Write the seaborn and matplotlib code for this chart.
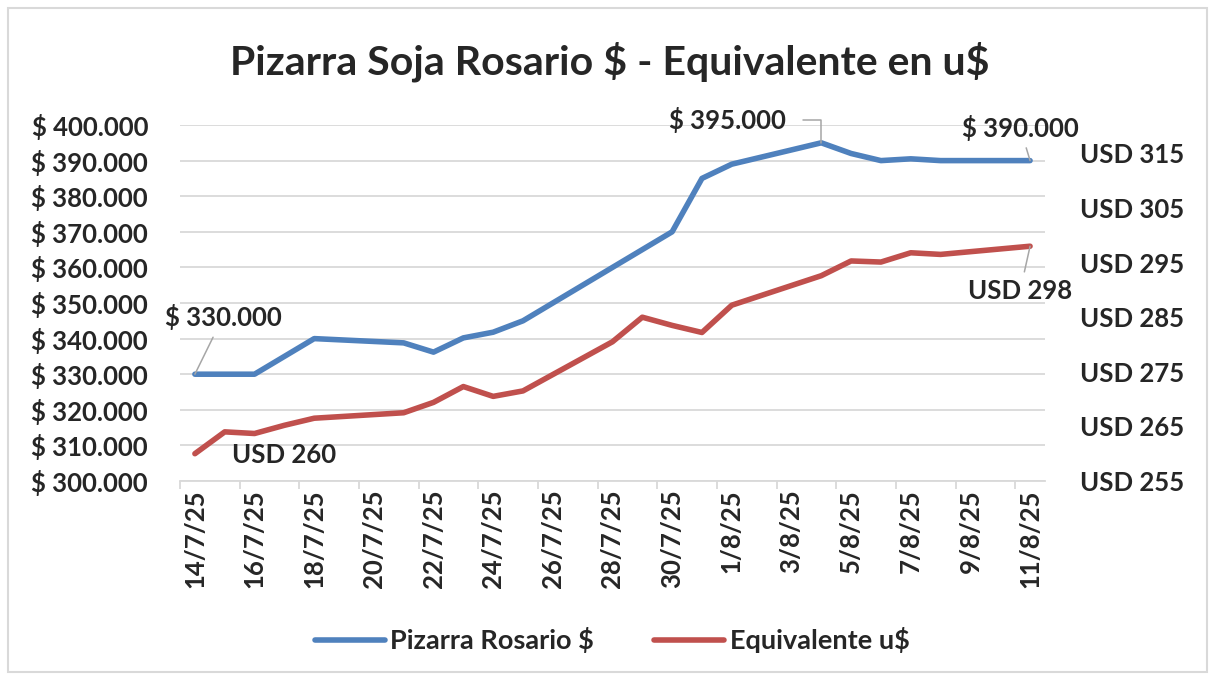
import pandas as pd
import numpy as np
import matplotlib
matplotlib.use("Agg")
import matplotlib.pyplot as plt
import matplotlib.dates as mdates
from matplotlib.patches import Rectangle
import seaborn as sns

# Datos
fechas = ["14/7/25", "15/7/25", "16/7/25", "17/7/25", "18/7/25",
          "21/7/25", "22/7/25", "23/7/25", "24/7/25", "25/7/25",
          "28/7/25", "29/7/25", "30/7/25", "31/7/25", "1/8/25",
          "4/8/25", "5/8/25", "6/8/25", "7/8/25", "8/8/25", "11/8/25"]
pizarra = [330000, 330000, 330000, 335000, 340000,
           338800, 336200, 340200, 341800, 345000,
           360000, 365000, 370000, 385000, 389000,
           395000, 392000, 390000, 390500, 390000, 390000]
equiv_usd = [260, 264, 263.7, 265.2, 266.5,
             267.5, 269.4, 272.3, 270.5, 271.5,
             280.5, 285, 283.5, 282.2, 287.2,
             292.6, 295.3, 295.1, 296.8, 296.5, 298]

etiquetas_x = ["14/7/25", "16/7/25", "18/7/25", "20/7/25", "22/7/25",
               "24/7/25", "26/7/25", "28/7/25", "30/7/25", "1/8/25",
               "3/8/25", "5/8/25", "7/8/25", "9/8/25", "11/8/25"]
ticks_izq = list(range(300000, 400001, 10000))
ticks_der = [255, 265, 275, 285, 295, 305, 315]

titulo = "Pizarra Soja Rosario $ - Equivalente en u$"
serie_1 = "Pizarra Rosario $"
serie_2 = "Equivalente u$"

df = pd.DataFrame({
    "fecha": pd.to_datetime(fechas, format="%d/%m/%y"),
    "pizarra": pizarra,
    "usd": equiv_usd,
})

sns.set_theme(style="white")
plt.rcParams["font.family"] = ["Lato", "DejaVu Sans"]
plt.rcParams["font.weight"] = "bold"

AZUL = "#4F81BD"
ROJO = "#C0504D"
GRIS = "#D9D9D9"
FS = 18.5

fig = plt.figure(figsize=(12.12, 6.79), dpi=100)
ax = fig.add_axes([0.1485, 0.2916, 0.7137, 0.5243])
ax2 = ax.twinx()

sns.lineplot(data=df, x="fecha", y="pizarra", ax=ax, color=AZUL, lw=4, legend=False)
sns.lineplot(data=df, x="fecha", y="usd", ax=ax2, color=ROJO, lw=4, legend=False)

# eje x: fechas
pos_lab = mdates.date2num(pd.to_datetime(etiquetas_x, format="%d/%m/%y"))
ax.set_xlim(pos_lab[0] - 0.5, pos_lab[-1] + 0.5)
ax.set_xticks(pos_lab - 0.5)
ax.set_xticklabels([])
ax.set_xticks(pos_lab, minor=True)
ax.set_xticklabels(etiquetas_x, minor=True, rotation=90, fontsize=FS, fontweight="bold")
ax.tick_params(axis="x", which="major", bottom=True, length=6, width=1.3, color=GRIS, direction="out")
ax.tick_params(axis="x", which="minor", bottom=True, length=0, pad=6)
ax.set_xlabel("")

# eje izquierdo
ax.set_ylim(300000, 400000)
ax.set_yticks(ticks_izq)
ax.set_yticklabels([f"$ {v:,.0f}".replace(",", ".") for v in ticks_izq], fontsize=FS, fontweight="bold")
ax.tick_params(axis="y", length=0, pad=23)
ax.set_ylabel("")
ax.yaxis.grid(True, color=GRIS, lw=1.3)
ax.xaxis.grid(False)

# eje derecho
ax2.set_ylim(255, 320.2)
ax2.set_yticks(ticks_der)
ax2.set_yticklabels([f"USD {v}" for v in ticks_der], fontsize=FS, fontweight="bold")
ax2.tick_params(axis="y", length=0, pad=25)
ax2.set_ylabel("")
ax2.grid(False)

for a in (ax, ax2):
    for s in ("top", "left", "right"):
        a.spines[s].set_visible(False)
ax.spines["bottom"].set_color(GRIS)
ax.spines["bottom"].set_linewidth(1.3)
ax2.spines["bottom"].set_visible(False)

# etiquetas de datos
x_ini = mdates.date2num(df["fecha"].iloc[0])
x_fin = mdates.date2num(df["fecha"].iloc[-1])
x_max = mdates.date2num(df["fecha"].iloc[int(np.argmax(pizarra))])
lider = dict(arrowstyle="-", color="#A6A6A6", lw=1.1, shrinkA=3, shrinkB=0)

ax.annotate(f"$ {pizarra[0]:,.0f}".replace(",", "."), xy=(x_ini, pizarra[0]),
            xytext=(28, 57), textcoords="offset pixels", ha="center", va="center",
            fontsize=FS, fontweight="bold", arrowprops=lider)
ax.annotate(f"$ {max(pizarra):,.0f}".replace(",", "."), xy=(x_max, max(pizarra)),
            xytext=(-94, 23), textcoords="offset pixels", ha="center", va="center",
            fontsize=FS, fontweight="bold",
            arrowprops=dict(lider, shrinkA=10, relpos=(1, 0.5),
                            connectionstyle="angle,angleA=0,angleB=90,rad=0"))
ax.annotate(f"$ {pizarra[-1]:,.0f}".replace(",", "."), xy=(x_fin, pizarra[-1]),
            xytext=(-10, 33), textcoords="offset pixels", ha="center", va="center",
            fontsize=FS, fontweight="bold", arrowprops=lider)
ax2.annotate(f"USD {equiv_usd[0]:.0f}", xy=(x_ini, equiv_usd[0]),
             xytext=(89, -1), textcoords="offset pixels", ha="center", va="center",
             fontsize=FS, fontweight="bold")
ax2.annotate(f"USD {equiv_usd[-1]:.0f}", xy=(x_fin, equiv_usd[-1]),
             xytext=(-10, -45), textcoords="offset pixels", ha="center", va="center",
             fontsize=FS, fontweight="bold", arrowprops=lider)

# título y leyenda
fig.text(0.503, 0.909, titulo, ha="center", va="center", fontsize=29.5,
         fontweight="bold", parse_math=False)
handles = [ax.lines[0], ax2.lines[0]]
fig.legend(handles, [serie_1, serie_2], loc="center", bbox_to_anchor=(0.505, 0.057),
           ncol=2, frameon=False, prop={"size": 19.5, "weight": "bold"},
           handlelength=2.6, columnspacing=2.2, handletextpad=0.2)

fig.patches.append(Rectangle((8 / 1212, 7 / 679), 1199 / 1212, 664 / 679,
                             transform=fig.transFigure, fill=False,
                             edgecolor=GRIS, lw=1.5))

fig.savefig("out.png", dpi=100)
